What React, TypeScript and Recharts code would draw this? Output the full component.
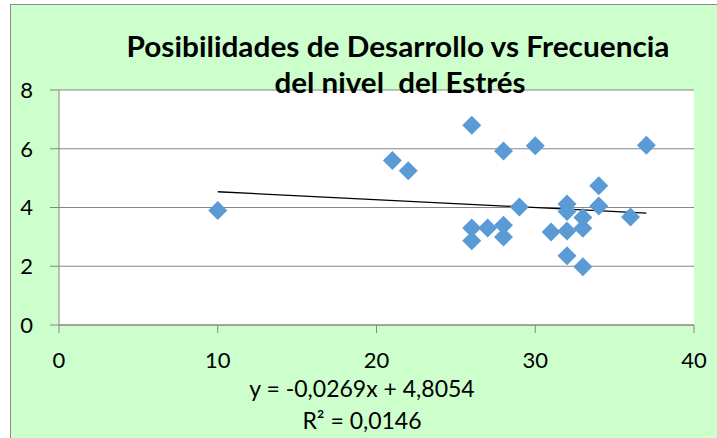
import * as React from "react";
import { ScatterChart, Scatter, XAxis, YAxis, CartesianGrid, ReferenceLine } from "recharts";

const frecuencia = [10, 21, 22, 26, 26, 26, 27, 28, 28, 28, 29, 30, 31, 32, 32, 32, 32, 33, 33, 33, 34, 34, 36, 37];
const posibilidades = [3.9, 5.6, 5.25, 6.8, 3.3, 2.87, 3.3, 5.92, 3.4, 3.0, 4.02, 6.1, 3.17, 4.12, 3.86, 3.2, 2.36, 3.66, 3.29, 1.98, 4.74, 4.05, 3.68, 6.12];
const xTicks = [0, 10, 20, 30, 40];
const yTicks = [0, 2, 4, 6, 8];

const SLOPE = -0.0269;
const INTERCEPT = 4.8054;
const TREND_FROM = 10;
const TREND_TO = 37;

const TITLE_1 = "Posibilidades de Desarrollo vs Frecuencia";
const TITLE_2 = "del nivel  del Estrés";
const EQUATION = "y = -0,0269x + 4,8054";
const R2 = "R² = 0,0146";

const data = frecuencia.map((x, i) => ({ x, y: posibilidades[i] }));

const FONT = "Lato, 'Open Sans', sans-serif";
const GRID = "#868686";

const Diamond = (props: any) => {
  const { cx, cy } = props;
  if (cx == null || cy == null) return null;
  const r = 9.5;
  return (
    <polygon
      points={`${cx},${cy - r} ${cx + r},${cy} ${cx},${cy + r} ${cx - r},${cy}`}
      fill="#5B9BD5"
    />
  );
};

const App: React.FC = () => (
  <div style={{ position: "absolute", left: 0, top: 0, width: 717, height: 438, overflow: "hidden" }}>
    <div
      style={{
        position: "absolute",
        left: 10,
        top: 4,
        width: 740,
        height: 460,
        background: "#CCFFCC",
        border: "1px solid #8c8c8c",
      }}
    />
    <div style={{ position: "absolute", left: 0, top: 0 }}>
      <ScatterChart width={717} height={438} margin={{ top: 90, right: 23, left: 0, bottom: 73 }}>
        <CartesianGrid vertical={false} stroke={GRID} fill="#ffffff" horizontalValues={yTicks} />
        <XAxis
          type="number"
          dataKey="x"
          domain={[0, 40]}
          ticks={xTicks}
          height={40}
          stroke={GRID}
          tickSize={8}
          tickMargin={19}
          tick={{ fill: "#000", fontSize: 22, fontFamily: FONT }}
        />
        <YAxis
          type="number"
          dataKey="y"
          domain={[0, 8]}
          ticks={yTicks}
          width={59}
          stroke={GRID}
          tickSize={9}
          tickMargin={17}
          tick={{ fill: "#000", fontSize: 22, fontFamily: FONT }}
        />
        <ReferenceLine
          segment={[
            { x: TREND_FROM, y: SLOPE * TREND_FROM + INTERCEPT },
            { x: TREND_TO, y: SLOPE * TREND_TO + INTERCEPT },
          ]}
          stroke="#000"
          strokeWidth={1.3}
        />
        <Scatter data={data} shape={<Diamond />} isAnimationActive={false} />
      </ScatterChart>
    </div>
    <svg
      width={717}
      height={438}
      style={{ position: "absolute", left: 0, top: 0, pointerEvents: "none" }}
    >
      <text
        x={398}
        y={57}
        textAnchor="middle"
        fontFamily={FONT}
        fontWeight="bold"
        fontSize={29}
        textLength={543}
        lengthAdjust="spacingAndGlyphs"
        fill="#000"
      >
        {TITLE_1}
      </text>
      <text
        x={400}
        y={93}
        textAnchor="middle"
        fontFamily={FONT}
        fontWeight="bold"
        fontSize={29}
        textLength={251}
        lengthAdjust="spacingAndGlyphs"
        fill="#000"
        style={{ whiteSpace: "pre" }}
      >
        {TITLE_2}
      </text>
      <text x={362} y={397} textAnchor="middle" fontFamily={FONT} fontSize={23} fill="#000">
        {EQUATION}
      </text>
      <text x={362} y={429} textAnchor="middle" fontFamily={FONT} fontSize={23} fill="#000">
        {R2}
      </text>
    </svg>
  </div>
);

export default App;
